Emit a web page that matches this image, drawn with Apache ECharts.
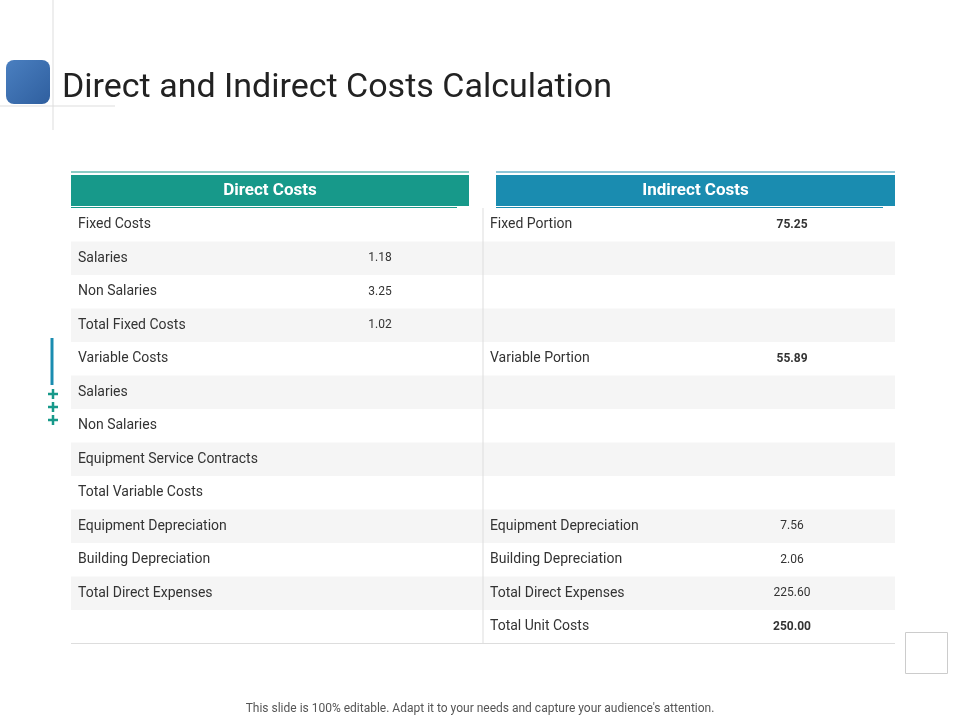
<!DOCTYPE html>
<html><head><meta charset="utf-8">
<script src="https://cdn.jsdelivr.net/npm/echarts@6/dist/echarts.min.js"></script>
<style>html,body{margin:0;padding:0;background:#fff}#c{width:960px;height:720px}</style>
</head><body><div id="c"></div>
<script>
const title = "Direct and Indirect Costs Calculation";
const headers = ["Direct Costs", "Indirect Costs"];
const directLabels = ["Fixed Costs","Salaries","Non Salaries","Total Fixed Costs","Variable Costs","Salaries","Non Salaries","Equipment Service Contracts","Total Variable Costs","Equipment Depreciation","Building Depreciation","Total Direct Expenses",""];
const directValues = ["","1.18","3.25","1.02","","","","","","","","",""];
const indirectLabels = ["Fixed Portion","","","","Variable Portion","","","","","Equipment Depreciation","Building Depreciation","Total Direct Expenses","Total Unit Costs"];
const indirectValues = ["75.25","","","","55.89","","","","","7.56","2.06","225.60","250.00"];
const boldValues = ["75.25","55.89","250.00"];
const footer = "This slide is 100% editable. Adapt it to your needs and capture your audience's attention.";

const F = "Roboto, 'Noto Sans', sans-serif";
const g = [];
const top0 = 208, rh = 33.5, L = 71, R = 895, mid = 483;
// decorations
g.push({type:'line',shape:{x1:53,y1:0,x2:53,y2:130},style:{stroke:'#ddd',lineWidth:1}});
g.push({type:'line',shape:{x1:0,y1:106,x2:115,y2:106},style:{stroke:'#ddd',lineWidth:1}});
g.push({type:'rect',shape:{x:6,y:60,width:44,height:44,r:8},style:{fill:new echarts.graphic.LinearGradient(0,0,1,1,[{offset:0,color:'#4a7fc0'},{offset:1,color:'#2f5f9f'}])}});
g.push({type:'text',x:62,y:88,style:{text:title,font:'34px '+F,fill:'#222',verticalAlign:'middle'}});
// headers
const hdr=[{x:71,w:398,c:'#17998a'},{x:496,w:399,c:'#1a8cb0'}];
hdr.forEach((h,i)=>{
  g.push({type:'line',shape:{x1:h.x,y1:172,x2:h.x+h.w,y2:172},style:{stroke:h.c,lineWidth:1}});
  g.push({type:'rect',shape:{x:h.x,y:175,width:h.w,height:31},style:{fill:h.c}});
  g.push({type:'line',shape:{x1:h.x,y1:207.5,x2:h.x+h.w-12,y2:207.5},style:{stroke:h.c,lineWidth:1}});
  g.push({type:'text',x:h.x+h.w/2,y:191,style:{text:headers[i],font:'bold 17px '+F,fill:'#fff',align:'center',verticalAlign:'middle'}});
});
// rows
directLabels.forEach((lab,i)=>{
  const y=top0+i*rh, cy=y+rh/2;
  if(i%2===1) g.push({type:'rect',shape:{x:L,y:y,width:R-L,height:rh},style:{fill:'#f5f5f5'}});
  g.push({type:'text',x:78,y:cy,style:{text:lab,font:'14px '+F,fill:'#333',verticalAlign:'middle'}});
  g.push({type:'text',x:380,y:cy,style:{text:directValues[i],font:'12px '+F,fill:'#333',align:'center',verticalAlign:'middle'}});
  g.push({type:'text',x:490,y:cy,style:{text:indirectLabels[i],font:'14px '+F,fill:'#333',verticalAlign:'middle'}});
  const v=indirectValues[i], b=boldValues.includes(v);
  g.push({type:'text',x:792,y:cy,style:{text:v,font:(b?'bold ':'')+'12px '+F,fill:'#333',align:'center',verticalAlign:'middle'}});
});
const bottom = top0+directLabels.length*rh;
g.push({type:'line',shape:{x1:mid,y1:top0,x2:mid,y2:bottom},style:{stroke:'#ddd',lineWidth:1}});
g.push({type:'line',shape:{x1:L,y1:bottom,x2:R,y2:bottom},style:{stroke:'#ddd',lineWidth:1}});
// side accents
g.push({type:'line',shape:{x1:52,y1:338,x2:52,y2:385},style:{stroke:'#1a8cb0',lineWidth:3}});
[394,407,420].forEach(y=>{
  g.push({type:'line',shape:{x1:48,y1:y,x2:58,y2:y},style:{stroke:'#17998a',lineWidth:2.5}});
  g.push({type:'line',shape:{x1:53,y1:y-5,x2:53,y2:y+5},style:{stroke:'#17998a',lineWidth:2.5}});
});
g.push({type:'rect',shape:{x:905.5,y:632.5,width:42,height:41},style:{fill:'none',stroke:'#ccc',lineWidth:1}});
g.push({type:'text',x:480,y:709,style:{text:footer,font:'12px '+F,fill:'#555',align:'center',verticalAlign:'middle'}});

const chart = echarts.init(document.getElementById('c'));
chart.setOption({animation:false,graphic:{elements:g}});
</script></body></html>
